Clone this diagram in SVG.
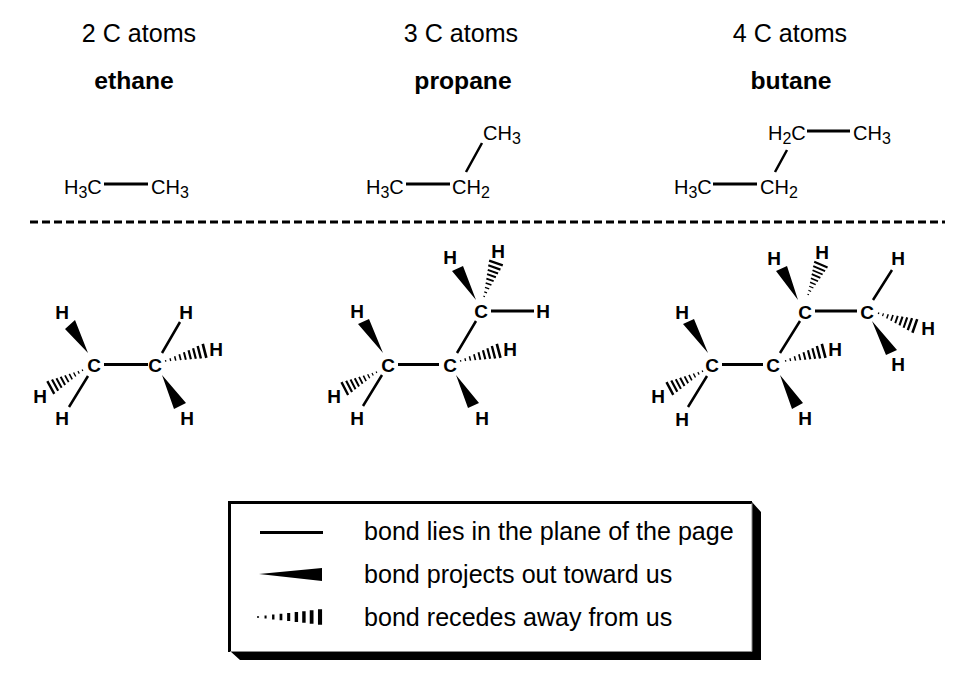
<svg xmlns="http://www.w3.org/2000/svg" width="972" height="679" viewBox="0 0 972 679">
<style>
text{font-family:"Liberation Sans",Arial,sans-serif;fill:#000}
.t{font-size:25.1px;text-anchor:middle}
.b{font-size:24.7px;font-weight:bold;text-anchor:middle}
.f{font-size:20px}
.s{font-size:16px}
.a{font-size:19px;font-weight:bold;text-anchor:middle}
.l{font-size:25.1px}
.bond{stroke:#000;stroke-width:3;fill:none}
.thin{stroke:#000;stroke-width:2.5;fill:none}
</style>
<defs>
<path id="hash" d="M0,-.1H.03V.1H0ZM.11,-.18H.14V.18H.11ZM.22,-.28H.255V.28H.22ZM.33,-.38H.37V.38H.33ZM.44,-.48H.485V.48H.44ZM.55,-.58H.6V.58H.55ZM.66,-.68H.71V.68H.66ZM.77,-.8H.825V.8H.77ZM.89,-.9H.95V.9H.89Z"/>
</defs>
<g id="titles">
<text class="t" x="139" y="42">2 C atoms</text><text class="b" x="134" y="89">ethane</text>
<text class="t" x="461" y="42">3 C atoms</text><text class="b" x="463" y="89">propane</text>
<text class="t" x="790" y="42">4 C atoms</text><text class="b" x="791" y="89">butane</text>
</g>
<g id="condensed-labels">
<text class="f" x="64" y="194">H<tspan class="s" dy="4">3</tspan><tspan dy="-4">C</tspan></text>
<text class="f" x="151" y="194">CH<tspan class="s" dy="4">3</tspan></text>
<text class="f" x="366" y="194">H<tspan class="s" dy="4">3</tspan><tspan dy="-4">C</tspan></text>
<text class="f" x="452" y="194">CH<tspan class="s" dy="4">2</tspan></text>
<text class="f" x="483" y="140">CH<tspan class="s" dy="4">3</tspan></text>
<text class="f" x="674" y="194">H<tspan class="s" dy="4">3</tspan><tspan dy="-4">C</tspan></text>
<text class="f" x="760" y="194">CH<tspan class="s" dy="4">2</tspan></text>
<text class="f" x="768" y="140">H<tspan class="s" dy="4">2</tspan><tspan dy="-4">C</tspan></text>
<text class="f" x="853" y="140">CH<tspan class="s" dy="4">3</tspan></text>
</g>
<g id="connectors">
<path class="bond" d="M104,184H148M406,184H450M713,184H757M807,131H850"/>
<path class="thin" d="M482,143L466,172M787,150L775,172"/>
<path d="M30,222H945" stroke="#000" stroke-width="3" stroke-dasharray="8 4" fill="none"/>
<path class="bond" d="M104,364.500H148M398,364.500H439M722,364.500H763M491,311H534M815,311H857"/>
<path class="thin" d="M180,322L162,353M88,376L69,407M382,375L363,406M457,353L476,321M707,376L688,407M780,353L800,321M873,300L892,270"/>
<path d="M88,353L65,329L75,320ZM162,375L174,409L186,403ZM383,353L358,324L369,319ZM456,375L468,408L479,403ZM476,300L452,271L463,266ZM708,353L683,324L694,319ZM780,375L792,409L803,403ZM798,300L776,271L787,266ZM872,321L886,355L897,350Z"/>
<use href="#hash" transform="matrix(43 -11 2 7.8 165 361)"/>
<use href="#hash" transform="matrix(-35 19 -3.84 -7.07 83 370)"/>
<use href="#hash" transform="matrix(-35 18 -3.68 -7.15 377 372)"/>
<use href="#hash" transform="matrix(42 -11 2.04 7.79 460 361)"/>
<use href="#hash" transform="matrix(13 -37 7.59 2.67 484 297)"/>
<use href="#hash" transform="matrix(-36 19 -3.76 -7.12 703 371)"/>
<use href="#hash" transform="matrix(42 -11 2.04 7.79 785 361)"/>
<use href="#hash" transform="matrix(14 -33 7.42 3.15 808 295)"/>
<use href="#hash" transform="matrix(40 14 -2.66 7.59 878 313)"/>
</g>
<g id="ethane">
<text class="a" x="94" y="371.500">C</text><text class="a" x="155" y="371.500">C</text>
<text class="a" x="62" y="319">H</text><text class="a" x="186" y="319">H</text><text class="a" x="216" y="356">H</text><text class="a" x="40" y="403">H</text><text class="a" x="62" y="425">H</text><text class="a" x="187" y="425">H</text>
</g>
<g id="propane">
<text class="a" x="388" y="371.500">C</text><text class="a" x="450" y="371.500">C</text><text class="a" x="481" y="318">C</text>
<text class="a" x="357" y="318">H</text><text class="a" x="334" y="403">H</text><text class="a" x="357" y="425">H</text><text class="a" x="482" y="425">H</text><text class="a" x="510" y="356">H</text><text class="a" x="450" y="264">H</text><text class="a" x="498" y="258">H</text><text class="a" x="543" y="318">H</text>
</g>
<g id="butane">
<text class="a" x="712" y="371.500">C</text><text class="a" x="773" y="371.500">C</text><text class="a" x="805" y="318.500">C</text><text class="a" x="867" y="318.500">C</text>
<text class="a" x="682" y="319">H</text><text class="a" x="658" y="403">H</text><text class="a" x="682" y="426">H</text><text class="a" x="805" y="425">H</text><text class="a" x="835" y="356">H</text><text class="a" x="774" y="265">H</text><text class="a" x="822" y="259">H</text><text class="a" x="898" y="265">H</text><text class="a" x="928" y="335">H</text><text class="a" x="898" y="371">H</text>
</g>
<g id="legend">
<path d="M752,502L761,512V660H240L230,651H752Z"/>
<path d="M229.500,652V502.500H752" stroke="#000" stroke-width="3" fill="none"/>
<path d="M752,503V651.500H230" stroke="#888" stroke-width="1" fill="none"/>
<path class="bond" d="M260,532.500H323"/>
<path d="M259,574L322,568V581Z"/>
<use href="#hash" transform="matrix(68.500 0 0 8.500 257 617)"/>
<text class="l" x="364" y="539.500">bond lies in the plane of the page</text>
<text class="l" x="364" y="582.500">bond projects out toward us</text>
<text class="l" x="364" y="625.500">bond recedes away from us</text>
</g>
</svg>
